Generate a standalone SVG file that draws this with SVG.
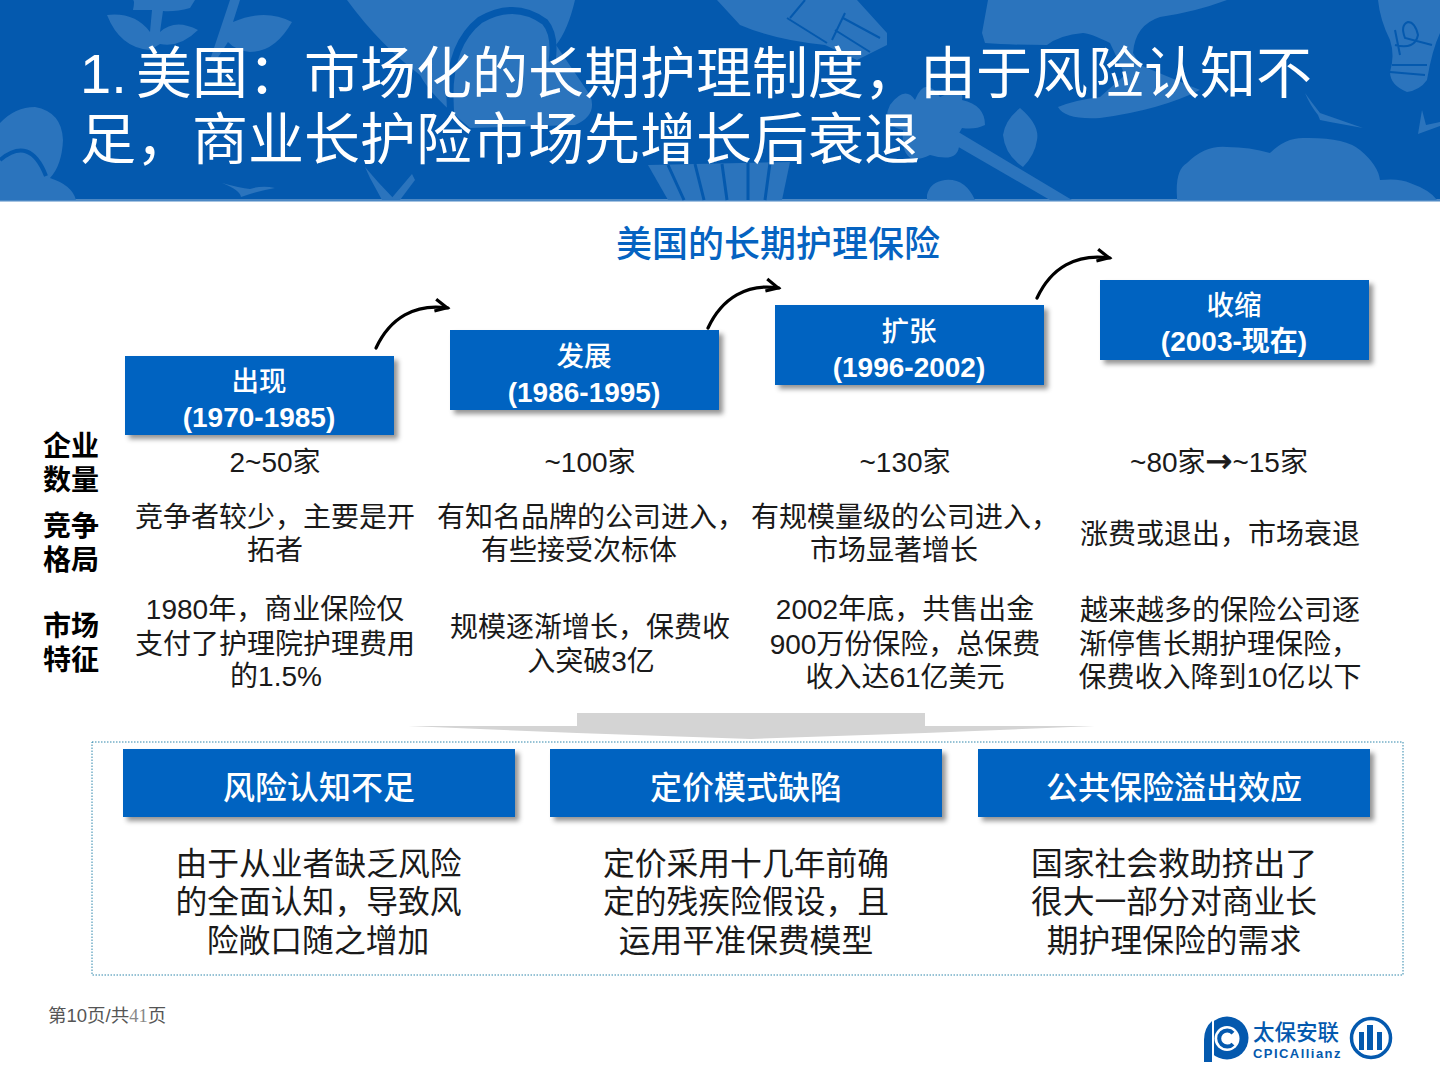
<svg xmlns="http://www.w3.org/2000/svg" width="1440" height="1080" viewBox="0 0 1440 1080">
<style>
text{font-family:"Liberation Sans","Noto Sans CJK SC",sans-serif}
.title{font-size:56px;fill:#fff}
.sub{font-size:36px;fill:#0563C1;font-weight:500;text-anchor:middle}
.box{fill:#0563C1;filter:url(#sh)}
.bt{font-size:27.5px;fill:#fff;text-anchor:middle;font-weight:500}
.btb{font-size:28px;fill:#fff;text-anchor:middle;font-weight:700}
.h{font-size:32px;fill:#fff;text-anchor:middle;font-weight:500}
.lab{font-size:28px;fill:#000;text-anchor:middle;font-weight:700}
.b{font-size:28px;fill:#1a1a1a;text-anchor:middle}
.c{font-size:31.8px;fill:#1a1a1a;text-anchor:middle}
.deco{fill:#2B74BD}
.dk{fill:none;stroke:#0459AE}
.arc{fill:none;stroke:#000;stroke-width:3.2;stroke-linecap:round;marker-end:url(#ah)}
</style>
<defs>
<filter id="sh" x="-5%" y="-10%" width="112%" height="125%"><feDropShadow dx="4" dy="4" stdDeviation="2.5" flood-color="#000" flood-opacity=".42"/></filter>
<marker id="ah" viewBox="0 0 12 12" refX="12" refY="6" markerWidth="12" markerHeight="12" markerUnits="userSpaceOnUse" orient="auto" overflow="visible"><path d="M-1 -1L11 6L-1 11" fill="none" stroke="#000" stroke-width="3.2"/></marker>
</defs>
<rect width="1440" height="1080" fill="#fff"/>
<g id="header">
<rect width="1440" height="200" fill="#0459AE"/>
<rect y="199" width="1440" height="2.5" fill="#4C88C4"/>
<path class="deco" d="M0 123Q15 107 35 107Q62 112 63 140Q62 165 50 178Q72 185 76 200H0Z"/>
<path class="dk" stroke-width="4" d="M0 160Q30 135 46 176"/>
<path class="deco" d="M107 15Q135 12 150 32L152 10H133Q135 0 133 0H195L190 8Q175 12 163 11L160 32Q175 18 198 30Q180 48 160 44L150 50Q120 48 107 15ZM230 0H240L233 22Q265 8 292 22Q275 52 250 52Q235 50 228 42L215 62L210 60Z"/>
<path class="deco" d="M347 0H575Q568 30 556 45L590 95Q598 115 575 125L470 128Q430 95 420 75Q380 45 347 0Z"/>
<path class="dk" stroke-width="7" d="M452 125Q442 50 480 20Q515 0 545 22Q556 35 552 62"/>
<path class="deco" d="M222 183Q240 188 250 189Q262 185 275 188Q258 191 241 197Q240 190 222 183ZM365 167L378 182L395 200H382L370 178ZM412 174L415 180L400 200H390Z"/>
<path class="deco" d="M648 165L790 162L782 200H668Z"/>
<path class="dk" stroke-width="3" d="M668 165L684 200M695 164L704 200M722 164L727 200M748 163L748 200M770 163L765 200"/>
<path class="deco" d="M717 0H857L887 33L887 45L857 60L825 45Q775 40 740 25Z"/>
<path class="dk" stroke-width="2" d="M787 18L827 43M845 13L832 40M805 0L790 18M843 18L880 38M835 30L870 52"/>
<path class="deco" d="M988 0H1227Q1195 12 1160 17Q1135 25 1133 53L1140 65L1200 90Q1160 110 1100 118Q1065 120 1058 107Q1075 100 1100 97L1125 75L1110 43Q1090 33 1083 33Q1060 35 1047 45Q1010 45 985 43L982 33Z"/>
<path class="deco" d="M890 105Q905 85 915 100Q925 75 940 97Q965 85 962 100Q985 105 985 125Q975 130 962 128L958 135Q965 165 930 155Q900 170 903 130Q880 125 890 105ZM927 195Q930 182 945 180Q965 178 975 200H927ZM1020 108Q1040 125 1037 140Q1035 155 1023 167Q1005 155 1003 135Q1005 120 1020 108ZM955 130L1072 200H1050L955 145Z"/>
<path class="deco" d="M1177 197Q1175 170 1187 163Q1205 145 1227 147Q1250 147 1270 153Q1285 138 1303 138Q1345 137 1360 150Q1378 165 1380 180Q1400 178 1410 183Q1430 190 1437 200H1177Z"/>
<path class="deco" d="M1378 0H1440V33Q1432 50 1427 80Q1420 90 1407 92Q1390 85 1390 72Q1395 55 1390 40Q1380 20 1378 0ZM1305 93Q1312 103 1320 113L1363 128L1330 122L1320 120L1318 115Q1310 105 1305 93ZM1422 110L1426 125L1440 122V126L1418 134Z"/>
<path class="dk" stroke-width="2" d="M1395 30L1400 55M1395 45Q1415 50 1418 35Q1415 22 1408 22Q1400 25 1405 38L1432 45M1392 65L1427 65M1390 72L1425 75"/>
</g>
<g id="title">
<text class="title" x="80" y="93">1.</text>
<text class="title" x="136" y="93">美国：市场化的长期护理制度，由于风险认知不</text>
<text class="title" x="80" y="159">足，商业长护险市场先增长后衰退</text>
</g>
<text id="subtitle" class="sub" x="778" y="257">美国的长期护理保险</text>
<g id="connectors">
<path class="arc" d="M376 348C390 318 415 303 448 308"/>
<path class="arc" d="M708 328C722 298 747 283 779 288"/>
<path class="arc" d="M1037 298C1051 268 1076 253 1110 258"/>
</g>
<g id="stage-1"><rect class="box" x="125" y="356" width="269" height="79"/><text class="bt" x="259" y="391">出现</text><text class="btb" x="259" y="427">(1970-1985)</text></g>
<g id="stage-2"><rect class="box" x="450" y="330" width="269" height="80"/><text class="bt" x="584" y="366">发展</text><text class="btb" x="584" y="402">(1986-1995)</text></g>
<g id="stage-3"><rect class="box" x="775" y="305" width="269" height="80"/><text class="bt" x="909" y="341">扩张</text><text class="btb" x="909" y="377">(1996-2002)</text></g>
<g id="stage-4"><rect class="box" x="1100" y="280" width="269" height="80"/><text class="bt" x="1234" y="315">收缩</text><text class="btb" x="1234" y="351">(2003-现在)</text></g>
<g id="row-labels">
<text class="lab" x="71" y="456">企业</text><text class="lab" x="71" y="490">数量</text>
<text class="lab" x="71" y="536">竞争</text><text class="lab" x="71" y="570">格局</text>
<text class="lab" x="71" y="636">市场</text><text class="lab" x="71" y="670">特征</text>
</g>
<g id="table">
<text class="b" x="275" y="472">2~50家</text>
<text class="b" x="590" y="472">~100家</text>
<text class="b" x="905" y="472">~130家</text>
<text class="b" x="1219" y="472">~80家<tspan style="font-family:'DejaVu Sans',sans-serif;stroke:#1a1a1a;stroke-width:.8" font-size="32">→</tspan>~15家</text>
<text class="b" x="275" y="527">竞争者较少，主要是开</text><text class="b" x="275" y="560">拓者</text>
<text class="b" x="591" y="527">有知名品牌的公司进入，</text><text class="b" x="579" y="560">有些接受次标体</text>
<text class="b" x="905" y="527">有规模量级的公司进入，</text><text class="b" x="894" y="560">市场显著增长</text>
<text class="b" x="1220" y="544">涨费或退出，市场衰退</text>
<text class="b" x="275" y="619">1980年，商业保险仅</text><text class="b" x="275" y="654">支付了护理院护理费用</text><text class="b" x="276" y="686">的1.5%</text>
<text class="b" x="590" y="637">规模逐渐增长，保费收</text><text class="b" x="591" y="671">入突破3亿</text>
<text class="b" x="905" y="619">2002年底，共售出金</text><text class="b" x="905" y="654">900万份保险，总保费</text><text class="b" x="905" y="687">收入达61亿美元</text>
<text class="b" x="1220" y="620">越来越多的保险公司逐</text><text class="b" x="1219" y="654">渐停售长期护理保险，</text><text class="b" x="1220" y="687">保费收入降到10亿以下</text>
</g>
<path id="chevron" d="M577 713H925V726H1095L925 733L751 739L577 733L408 726H577Z" fill="#D4D4D4"/>
<rect id="frame" x="92" y="742" width="1311" height="233" fill="none" stroke="#2E86AB" stroke-width="1" stroke-dasharray="1.5 1.5"/>
<g id="cause-1"><rect class="box" x="123" y="749" width="392" height="68"/><text class="h" x="319" y="799">风险认知不足</text>
<text class="c" x="318.500" y="875">由于从业者缺乏风险</text><text class="c" x="318.500" y="913">的全面认知，导致风</text><text class="c" x="318" y="952">险敞口随之增加</text></g>
<g id="cause-2"><rect class="box" x="550" y="749" width="392" height="68"/><text class="h" x="746" y="799">定价模式缺陷</text>
<text class="c" x="746" y="875">定价采用十几年前确</text><text class="c" x="746" y="913">定的残疾险假设，且</text><text class="c" x="746" y="952">运用平准保费模型</text></g>
<g id="cause-3"><rect class="box" x="978" y="749" width="392" height="68"/><text class="h" x="1174" y="799">公共保险溢出效应</text>
<text class="c" x="1174" y="875">国家社会救助挤出了</text><text class="c" x="1174" y="913">很大一部分对商业长</text><text class="c" x="1174" y="952">期护理保险的需求</text></g>
<text id="page" x="48" y="1022" font-size="18.500" fill="#555">第10页/共<tspan fill="#888" style="font-family:'Liberation Serif',serif">41</tspan>页</text>
<g id="logo">
<circle cx="1227" cy="1038" r="21.500" fill="#0459AE"/>
<rect x="1204" y="1015" width="10" height="48" fill="#fff"/>
<path d="M1204 1062V1040Q1204 1028 1212 1021V1062Z" fill="#0459AE"/>
<circle cx="1227" cy="1038.500" r="12.500" fill="#fff"/>
<path d="M1233 1033A8 8 0 1 0 1233 1044" fill="none" stroke="#0459AE" stroke-width="4"/>
<text x="1253" y="1040" font-size="21.500" font-weight="500" fill="#0459AE" style="font-family:'Noto Sans CJK SC',sans-serif">太保安联</text>
<text x="1253" y="1058" font-size="13" font-weight="700" fill="#0459AE" letter-spacing="1.450">CPICAllianz</text>
<circle cx="1371" cy="1038" r="19.500" fill="none" stroke="#0459AE" stroke-width="3.500"/>
<path d="M1359 1032H1364V1050H1359ZM1367 1025H1373V1050H1367ZM1377 1032H1382V1050H1377Z" fill="#0459AE"/>
</g>
</svg>
